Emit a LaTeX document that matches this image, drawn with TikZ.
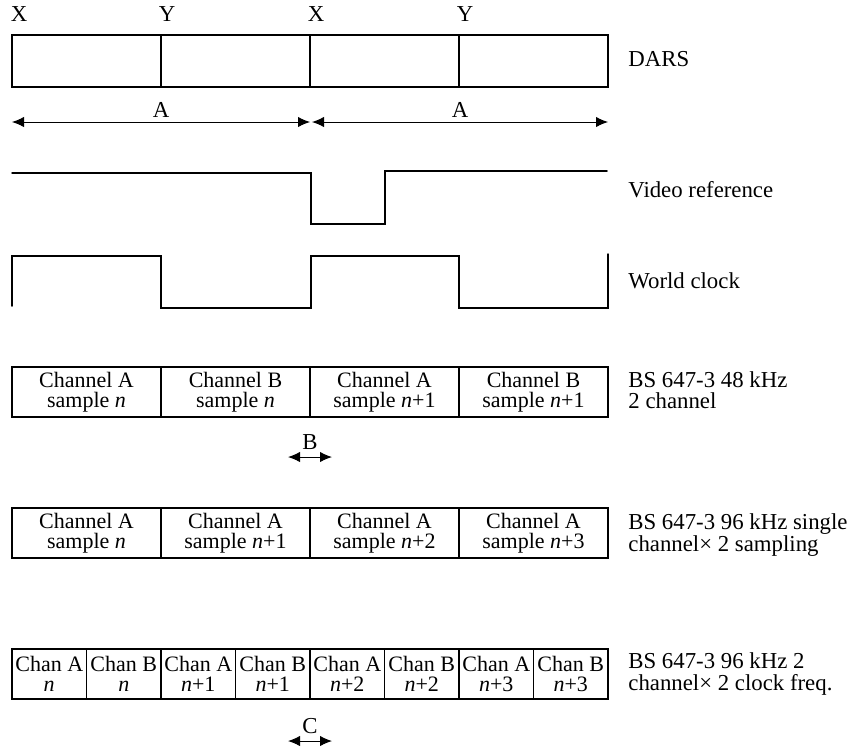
\documentclass[tikz,border=0pt]{standalone}
\usepackage{fontspec}
\setmainfont{Liberation Serif}
\usepackage{tikz}
\usetikzlibrary{arrows.meta, calc, positioning}
\def\cellfont{\fontsize{11}{9.7}\selectfont}
\def\sidefont{\fontsize{11.4}{10.8}\selectfont}
\tikzset{
	cell/.style={draw, line width=0.8pt, outer sep=0pt, inner sep=0pt, minimum width=74.5pt, minimum height=25pt, align=center, font=\cellfont},
	halfcell/.style={cell, minimum width=37.25pt},
	darscell/.style={cell, minimum height=26pt},
	sidelabel/.style={anchor=west, align=left, inner sep=0pt, font=\sidefont},
	toplabel/.style={inner sep=0pt, font=\sidefont},
	span/.style={line width=0.5pt, {Latex[length=6pt,width=5.2pt]}-{Latex[length=6pt,width=5.2pt]}},
	wave/.style={line width=0.75pt}
}

\begin{document}
\begin{tikzpicture}[x=0.5pt, y=-0.5pt, line cap = round]

	\useasboundingbox (0,0) rectangle (850,751);

	% DARS frame
	\node[darscell] (d1) at (86.5,61) {};
	\node[darscell, right=0pt of d1] (d2) {};
	\node[darscell, right=0pt of d2] (d3) {};
	\node[darscell, right=0pt of d3] (d4) {};
	\node[toplabel] (x1) at ($ (d1.north west)+(7,-21) $) {X};
	\node[toplabel] (y1) at ($ (d2.north west)+(6,-21) $) {Y};
	\node[toplabel] (x2) at ($ (d3.north west)+(6,-21) $) {X};
	\node[toplabel] (y2) at ($ (d4.north west)+(6,-21) $) {Y};
	\node[sidelabel] (dars) at (628,59) {DARS};

	\coordinate (a0) at (12,122);
	\coordinate (a1) at (310,122);
	\coordinate (a2) at (312,122);
	\coordinate (a3) at (608,122);
	\draw[span] (a0) -- (a1) node[midway, above=-1.5pt, font=\sidefont] {A};
	\draw[span] (a2) -- (a3) node[midway, above=-1.5pt, font=\sidefont] {A};

	% video reference and word clock
	\draw[wave] (12,173) -- (311,173) -- (311,224) -- (385,224) -- (385,171) -- (607,171);
	\node[sidelabel] (vref) at (628,190) {Video reference};
	\draw[wave] (12,306) |- (161,256) |- (311,308) |- (459,256) |- (608,308) -- (608,254);
	\node[sidelabel] (wclk) at (628,281) {World clock};

	% 48 kHz 2 channel
	\node[cell] (p1) at (86.5,392) {Channel A\\sample \textit{n}};
	\node[cell, right=0pt of p1] (p2) {Channel B\\sample \textit{n}};
	\node[cell, right=0pt of p2] (p3) {Channel A\\sample \textit{n}+1};
	\node[cell, right=0pt of p3] (p4) {Channel B\\sample \textit{n}+1};
	\node[sidelabel] (pl) at (628,390) {BS 647-3 48 kHz\\2 channel};
	\coordinate (b0) at (288,457);
	\coordinate (b1) at (332,457);
	\draw[span] (b0) -- (b1) node[midway, above=0pt, font=\sidefont] {B};

	% 96 kHz single channel
	\node[cell] (q1) at (86.5,533) {Channel A\\sample \textit{n}};
	\node[cell, right=0pt of q1] (q2) {Channel A\\sample \textit{n}+1};
	\node[cell, right=0pt of q2] (q3) {Channel A\\sample \textit{n}+2};
	\node[cell, right=0pt of q3] (q4) {Channel A\\sample \textit{n}+3};
	\node[sidelabel] (ql) at (628,535) {BS 647-3 96 kHz single\\channel× 2 sampling};

	% 96 kHz 2 channel
	\node[halfcell] (r1) at (49.25,674) {Chan A\\\textit{n}};
	\node[halfcell, right=0pt of r1] (r2) {Chan B\\\textit{n}};
	\node[halfcell, right=0pt of r2] (r3) {Chan A\\\textit{n}+1};
	\node[halfcell, right=0pt of r3] (r4) {Chan B\\\textit{n}+1};
	\node[halfcell, right=0pt of r4] (r5) {Chan A\\\textit{n}+2};
	\node[halfcell, right=0pt of r5] (r6) {Chan B\\\textit{n}+2};
	\node[halfcell, right=0pt of r6] (r7) {Chan A\\\textit{n}+3};
	\node[halfcell, right=0pt of r7] (r8) {Chan B\\\textit{n}+3};
	\node[sidelabel] (rl) at (628,674) {BS 647-3 96 kHz 2\\channel× 2 clock freq.};
	\coordinate (c0) at (288,741);
	\coordinate (c1) at (332,741);
	\draw[span] (c0) -- (c1) node[midway, above=0pt, font=\sidefont] {C};

\end{tikzpicture}
\end{document}
